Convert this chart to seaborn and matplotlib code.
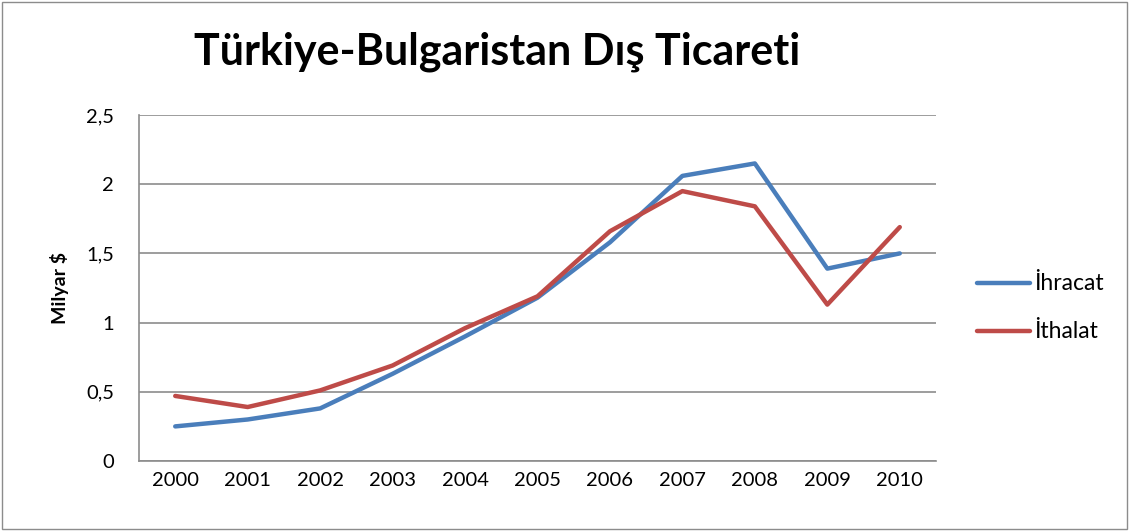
import pandas as pd
import matplotlib.pyplot as plt
import seaborn as sns
from matplotlib.patches import Rectangle

years = [2000, 2001, 2002, 2003, 2004, 2005, 2006, 2007, 2008, 2009, 2010]
ihracat = [0.25, 0.30, 0.38, 0.63, 0.90, 1.18, 1.58, 2.06, 2.15, 1.39, 1.50]
ithalat = [0.47, 0.39, 0.51, 0.69, 0.96, 1.19, 1.66, 1.95, 1.84, 1.13, 1.69]
series_names = ["İhracat", "İthalat"]
colors = ["#4A7EBB", "#BE4B48"]
y_ticks = [0, 0.5, 1, 1.5, 2, 2.5]
y_labels = ["0", "0,5", "1", "1,5", "2", "2,5"]

df = pd.DataFrame({
    "Yıl": years * 2,
    "Değer": ihracat + ithalat,
    "Seri": [series_names[0]] * len(years) + [series_names[1]] * len(years),
})

sns.set_style("white")
plt.rcParams["font.family"] = ["Lato", "DejaVu Sans"]
plt.rcParams["text.color"] = "black"
plt.rcParams["axes.labelcolor"] = "black"

fig = plt.figure(figsize=(11.3, 5.31), dpi=100)
ax = fig.add_axes([139 / 1130, 1 - 461 / 531, (936 - 139) / 1130, (461 - 115) / 531])

sns.lineplot(data=df, x="Yıl", y="Değer", hue="Seri", palette=colors,
             linewidth=3.2, ax=ax, legend=False)

ax.set_xlim(years[0] - 0.5, years[-1] + 0.5)
ax.set_ylim(0, 2.5)
ax.set_yticks(y_ticks)
ax.set_yticklabels(y_labels)
ax.set_xticks(years)
ax.set_xticklabels([str(y) for y in years])
ax.tick_params(axis="both", labelsize=14.5, labelcolor="black", length=0, pad=8)
ax.tick_params(axis="y", length=5, color="#888888", pad=13)
ax.yaxis.grid(True, color="#8c8c8c", linewidth=1.2)
ax.set_axisbelow(True)
for side in ["top", "right"]:
    ax.spines[side].set_visible(False)
for side in ["left", "bottom"]:
    ax.spines[side].set_color("#8c8c8c")
    ax.spines[side].set_linewidth(1.2)

ax.set_xlabel("")
ax.set_ylabel("Milyar $", fontsize=14, fontweight="bold", labelpad=12)

fig.text(497 / 1130, 1 - 52 / 531, "Türkiye-Bulgaristan Dış Ticareti",
         ha="center", va="center", fontsize=31, fontweight="bold")

# legend on the right
for i, (name, c) in enumerate(zip(series_names, colors)):
    yy = 1 - (283 + 48 * i) / 531
    fig.add_artist(plt.Line2D([977 / 1130, 1030 / 1130], [yy, yy], color=c,
                              linewidth=3.2, solid_capstyle="round"))
    fig.text(1034 / 1130, yy, name, ha="left", va="center", fontsize=16.5)

fig.add_artist(Rectangle((0.002, 0.003), 0.995, 0.994, transform=fig.transFigure,
                         fill=False, edgecolor="#8c8c8c", linewidth=1))

fig.savefig("out.png", dpi=100)
